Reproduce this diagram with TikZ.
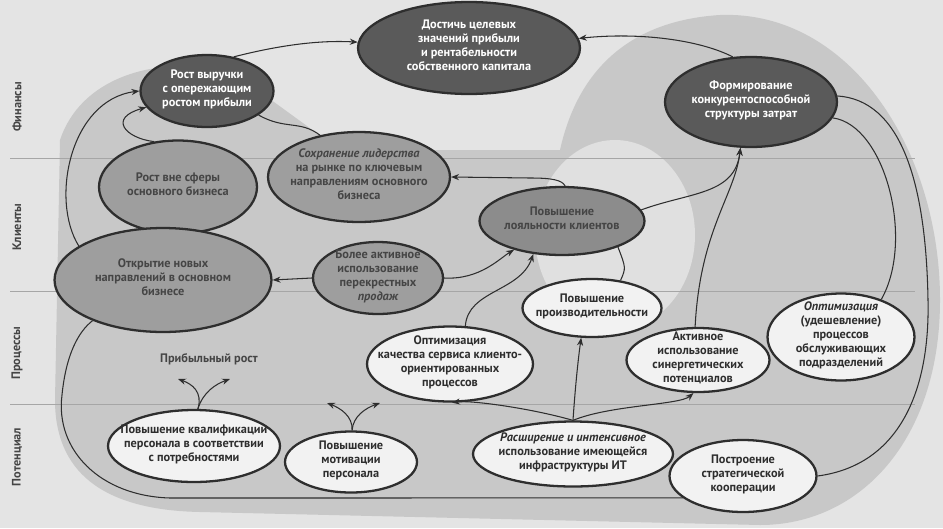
\documentclass[tikz,border=0pt]{standalone}
\usepackage{fontspec}
\setmainfont{PT Sans}
\usetikzlibrary{shapes.geometric,arrows.meta}
\definecolor{paper}{HTML}{E4E4E4}
\definecolor{blob}{HTML}{C8C8C8}
\definecolor{darkfill}{HTML}{5A5A5A}
\definecolor{midfill}{HTML}{9E9E9E}
\definecolor{loyfill}{HTML}{8C8C8C}
\definecolor{lightfill}{HTML}{F2F2F2}
\definecolor{ink}{HTML}{2E2E2E}
\definecolor{midink}{HTML}{454545}
\tikzset{oval/.style={
    ellipse,
    draw=ink,
    line width=1.3pt,
    inner sep=0pt,
    font=\fontsize{7}{8}\selectfont\bfseries
  },
  finoval/.style={oval,fill=darkfill,text=white},
  custoval/.style={oval,fill=midfill,text=midink},
  loyoval/.style={custoval,fill=loyfill},
  procoval/.style={oval,fill=lightfill,text=ink},
  lanelabel/.style={rotate=90,font=\fontsize{7}{8}\selectfont\bfseries,text=midink},
  lane/.style={draw=gray!70,line width=0.4pt},
  conn/.style={draw=ink,line width=0.6pt},
  >={Stealth[length=4.5pt,width=3.5pt]}
}
\newcommand{\ovl}[1]{\raisebox{-.25em}{\makebox[0pt]{\smash{\begin{tabular}{@{}c@{}}#1\end{tabular}}}}}

\begin{document}
\begin{tikzpicture}[x=0.02cm,y=-0.02cm]
  \useasboundingbox (0,0) rectangle (943,528);
  \fill[paper] (0,0) rectangle (943,528);
  \fill[blob] (60,140) .. controls (80,80) and (150,55) .. (230,70)
  -- (340,150) -- (560,150) .. controls (580,60) and (640,20) .. (720,15)
  .. controls (850,10) and (940,150) .. (940,300)
  .. controls (940,440) and (860,525) .. (760,525) -- (200,512)
  .. controls (100,510) and (55,470) .. (55,400) -- cycle;
  \fill[paper!85!blob] (615,235) ellipse (1.6cm and 1.9cm);

  \draw[lane] (10,158) -- (915,158);
  \draw[lane] (10,291) -- (915,291);
  \draw[lane] (10,404) -- (915,404);
  \node[lanelabel] (fin) at (17,107) {Финансы};
  \node[lanelabel] (cust) at (17,227) {Клиенты};
  \node[lanelabel] (proc) at (17,353) {Процессы};
  \node[lanelabel] (pot) at (17,457) {Потенциал};

  \node[finoval,minimum width=4.44cm,minimum height=1.84cm] (goal) at (469,48)
  {\ovl{Достичь целевых\\значений прибыли\\и рентабельности\\собственного капитала}};
  \node[finoval,minimum width=2.66cm,minimum height=1.44cm] (rev) at (207,91)
  {\ovl{Рост выручки\\с опережающим\\ростом прибыли}};
  \node[finoval,minimum width=3.44cm,minimum height=1.8cm] (cost) at (751,102)
  {\ovl{Формирование\\конкурентоспособной\\структуры затрат}};
  \node[custoval,minimum width=3.16cm,minimum height=1.86cm] (outside) at (178,187)
  {\ovl{Рост вне сферы\\основного бизнеса}};
  \node[custoval,minimum width=3.64cm,minimum height=1.8cm] (lead) at (359,177)
  {\ovl{\itshape Сохранение лидерства\\на рынке по ключевым\\направлениям основного\\бизнеса}};
  \node[custoval,minimum width=4.34cm,minimum height=2.08cm] (newdir) at (163,280)
  {\ovl{Открытие новых\\направлений в основном\\бизнесе}};
  \node[custoval,minimum width=2.6cm,minimum height=1.44cm] (cross) at (378,278)
  {\ovl{Более активное\\использование\\перекрестных\\\itshape продаж}};
  \node[loyoval,minimum width=3.3cm,minimum height=1.36cm] (loyal) at (562,221)
  {\ovl{Повышение\\лояльности клиентов}};
  \node[procoval,minimum width=2.78cm,minimum height=1.16cm] (prod) at (592,308)
  {\ovl{Повышение\\производительности}};
  \node[procoval,minimum width=3.32cm,minimum height=1.5cm] (service) at (450,364)
  {\ovl{Оптимизация\\качества сервиса клиенто-\\ориентированных\\процессов}};
  \node[procoval,minimum width=2.86cm,minimum height=1.28cm] (synergy) at (698,360)
  {\ovl{Активное\\использование\\синергетических\\потенциалов}};
  \node[procoval,minimum width=2.94cm,minimum height=1.74cm] (support) at (841,337)
  {\ovl{\itshape Оптимизация\\(удешевление)\\процессов\\обслуживающих\\подразделений}};
  \node[font=\fontsize{7}{8}\selectfont\bfseries,text=midink] (growth) at (209,359) {Прибыльный рост};
  \node[procoval,minimum width=3.44cm,minimum height=1.44cm] (qual) at (194,446)
  {\ovl{Повышение квалификации\\персонала в соответствии\\с потребностями}};
  \node[procoval,minimum width=2.64cm,minimum height=1.22cm] (motiv) at (351,462)
  {\ovl{Повышение\\мотивации\\персонала}};
  \node[procoval,minimum width=4cm,minimum height=1.3cm] (it) at (573,454)
  {\ovl{\itshape Расширение и интенсивное\\использование имеющейся\\инфраструктуры ИТ}};
  \node[procoval,minimum width=2.94cm,minimum height=1.44cm] (coop) at (743,476)
  {\ovl{Построение\\стратегической\\кооперации}};
  \coordinate (qualL) at (178,379);
  \coordinate (qualR) at (230,379);
  \coordinate (motL) at (327,403);
  \coordinate (motR) at (380,403);

  \draw[conn,->] (rev.52) .. controls (280,45) and (320,40) .. (goal.177);
  \draw[conn,->] (cost.112) .. controls (700,40) and (640,32) .. (goal.5);
  \draw[conn,->] (newdir.158) .. controls (50,200) and (70,100) .. (rev.180);
  \draw[conn,->] (outside.118) .. controls (125,138) and (108,118) .. (rev.195);
  \draw[conn] (rev.335) .. controls (285,130) and (300,120) .. (lead.133);
  \draw[conn,->] (loyal.85) .. controls (562,180) and (552,178) .. (530,178) -- (lead.east);
  \draw[conn,->] (cross.west) -- (newdir.east);
  \draw[conn,->] (cross.east) .. controls (480,280) and (500,258) .. (loyal.211);
  \draw[conn,->] (service.68) .. controls (468,290) and (520,292) .. (loyal.229);
  \draw[conn] (prod.44) .. controls (626,268) .. (loyal.335);
  \draw[conn,->] (loyal.8) .. controls (690,192) and (735,195) .. (cost.257);
  \draw[conn,->] (synergy.95) .. controls (700,230) and (735,195) .. (cost.257);
  \draw[conn] (cost.349) .. controls (885,125) and (915,240) .. (support.43);
  \draw[conn] (coop.east) .. controls (900,465) and (930,390) .. (928,300)
  .. controls (926,180) and (900,100) .. (cost.4);
  \draw[conn,->] (it.north) .. controls (530,408) and (470,400) .. (service.273);
  \draw[conn,->] (it.north) .. controls (575,390) and (578,360) .. (prod.250);
  \draw[conn,->] (it.north) .. controls (610,405) and (680,405) .. (synergy.262);
  \draw[conn,->] (qual.84) .. controls (203,392) and (192,384) .. (qualL);
  \draw[conn,->] (qual.84) .. controls (203,392) and (216,384) .. (qualR);
  \draw[conn,->] (motiv.88) .. controls (353,416) and (340,408) .. (motL);
  \draw[conn,->] (motiv.88) .. controls (353,416) and (366,408) .. (motR);
  \draw[conn] (coop.200) -- (170,498) .. controls (100,496) and (55,450) .. (62,395)
  .. controls (66,355) and (78,332) .. (newdir.210);
\end{tikzpicture}
\end{document}
